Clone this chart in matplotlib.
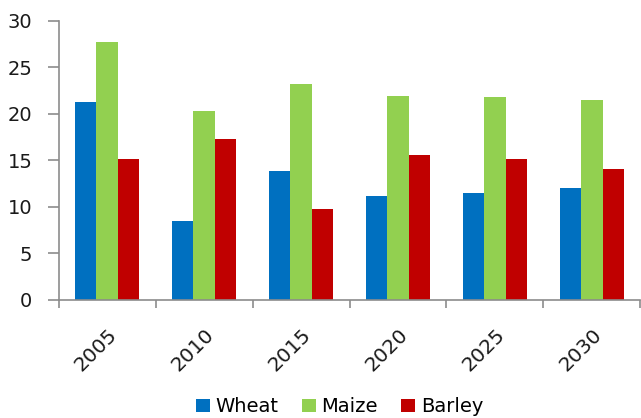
import numpy as np
import matplotlib.pyplot as plt
from matplotlib.ticker import FixedLocator

years = ['2005', '2010', '2015', '2020', '2025', '2030']
wheat = [21.3, 8.5, 13.9, 11.2, 11.5, 12.0]
maize = [27.7, 20.3, 23.2, 21.9, 21.8, 21.5]
barley = [15.2, 17.3, 9.8, 15.6, 15.1, 14.1]

series = [('Wheat', wheat, '#0070C0'),
          ('Maize', maize, '#92D050'),
          ('Barley', barley, '#C00000')]

fig = plt.figure(figsize=(6.41, 4.18), dpi=100)
ax = fig.add_axes([0.0916, 0.2823, 0.9074, 0.668])

x = np.arange(len(years))
w = 1 / 4.5
for i, (name, vals, col) in enumerate(series):
    ax.bar(x + (i - 1) * w, vals, w, color=col, label=name, linewidth=0)

ax.set_xlim(-0.5, len(years) - 0.5)
ax.set_ylim(0, 30)
ax.set_yticks(range(0, 31, 5))

for s in ['top', 'right']:
    ax.spines[s].set_visible(False)
for s in ['left', 'bottom']:
    ax.spines[s].set_color('#8c8c8c')
    ax.spines[s].set_linewidth(1.2)

ax.tick_params(axis='y', length=8, width=1.2, color='#8c8c8c', pad=11,
               labelsize=14, labelcolor='#1a1a1a')
ax.set_xticks(x)
ax.set_xticklabels(years, rotation=45, ha='right', rotation_mode='anchor',
                   fontsize=14.5, color='#1a1a1a')
ax.tick_params(axis='x', which='major', length=0, pad=18)
ax.xaxis.set_minor_locator(FixedLocator(np.arange(-0.5, len(years), 1.0)))
ax.tick_params(axis='x', which='minor', length=6, width=1.2, color='#8c8c8c')

# legend sits right at the bottom edge, as in the original
fig.legend(loc='lower center', bbox_to_anchor=(0.53, -0.038), ncol=3,
           frameon=False, fontsize=14, handlelength=0.7, handleheight=0.7,
           handletextpad=0.3, columnspacing=1.2)

fig.savefig('out.png', dpi=100)
